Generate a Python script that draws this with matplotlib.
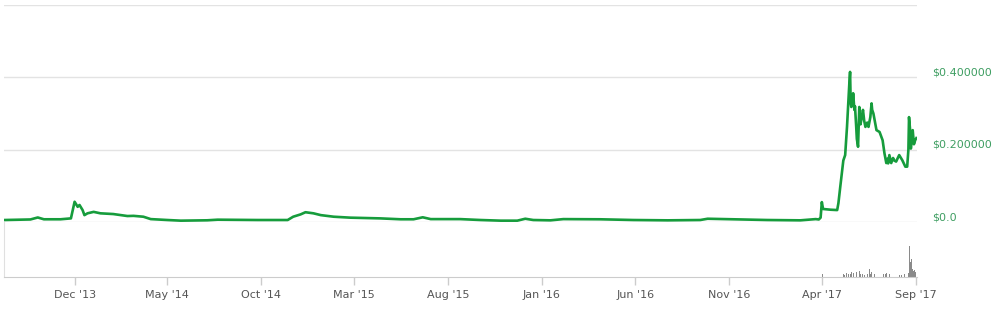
import matplotlib
matplotlib.use('Agg')
import matplotlib.pyplot as plt
import matplotlib.dates as mdates
import matplotlib.transforms as mtransforms
import matplotlib.ticker as mticker
import pandas as pd

# Price history (USD)
price_dates = [
	'2013-08-09', '2013-09-20', '2013-10-02', '2013-10-12', '2013-11-08', '2013-11-25',
	'2013-12-01', '2013-12-06', '2013-12-09', '2013-12-14', '2013-12-17', '2013-12-22',
	'2014-01-01', '2014-01-12', '2014-02-02', '2014-02-25', '2014-03-07', '2014-03-23',
	'2014-04-04', '2014-05-01', '2014-05-23', '2014-07-05', '2014-07-22', '2014-09-25',
	'2014-11-13', '2014-11-22', '2014-12-04', '2014-12-12', '2014-12-25', '2015-01-06',
	'2015-01-27', '2015-02-23', '2015-04-13', '2015-05-16', '2015-06-06', '2015-06-21',
	'2015-07-04', '2015-08-21', '2015-09-23', '2015-10-26', '2015-11-22', '2015-12-05',
	'2015-12-18', '2016-01-15', '2016-02-05', '2016-04-05', '2016-05-29', '2016-07-24',
	'2016-09-15', '2016-09-27', '2016-11-08', '2017-01-02', '2017-02-25', '2017-03-22',
	'2017-03-27', '2017-03-30', '2017-04-01', '2017-04-03', '2017-04-15', '2017-04-26',
	'2017-04-28', '2017-05-01', '2017-05-06', '2017-05-09', '2017-05-12', '2017-05-16',
	'2017-05-17', '2017-05-18', '2017-05-19', '2017-05-20', '2017-05-21', '2017-05-22',
	'2017-05-24', '2017-05-25', '2017-05-27', '2017-05-28', '2017-05-30', '2017-06-01',
	'2017-06-03', '2017-06-05', '2017-06-07', '2017-06-09', '2017-06-11', '2017-06-14',
	'2017-06-16', '2017-06-19', '2017-06-21', '2017-06-22', '2017-06-24', '2017-06-29',
	'2017-07-04', '2017-07-09', '2017-07-12', '2017-07-15', '2017-07-17', '2017-07-18',
	'2017-07-20', '2017-07-23', '2017-07-26', '2017-07-28', '2017-07-31', '2017-08-03',
	'2017-08-05', '2017-08-10', '2017-08-15', '2017-08-18', '2017-08-20', '2017-08-21',
	'2017-08-23', '2017-08-24', '2017-08-27', '2017-08-29', '2017-08-31', '2017-09-02',
]
price_usd = [
	0.0055, 0.0070, 0.0125, 0.0075, 0.0075, 0.0100,
	0.0560, 0.0420, 0.0470, 0.0330, 0.0190, 0.0240,
	0.0280, 0.0240, 0.0220, 0.0165, 0.0170, 0.0146,
	0.0080, 0.0055, 0.0037, 0.0047, 0.0064, 0.0055,
	0.0055, 0.0146, 0.0210, 0.0270, 0.0240, 0.0190,
	0.0146, 0.0120, 0.0100, 0.0075, 0.0075, 0.0130,
	0.0080, 0.0080, 0.0055, 0.0037, 0.0037, 0.0090,
	0.0055, 0.0046, 0.0080, 0.0075, 0.0055, 0.0046,
	0.0055, 0.0090, 0.0075, 0.0055, 0.0046, 0.0080,
	0.0070, 0.0120, 0.0550, 0.0360, 0.0340, 0.0330,
	0.0520, 0.0970, 0.1700, 0.1850, 0.2630, 0.3900,
	0.4150, 0.3300, 0.3180, 0.3500, 0.3300, 0.3560,
	0.3100, 0.3200, 0.2630, 0.2300, 0.2080, 0.3180,
	0.2700, 0.2900, 0.3100, 0.2800, 0.2630, 0.2750,
	0.2630, 0.2900, 0.3280, 0.3100, 0.3000, 0.2540,
	0.2490, 0.2260, 0.1900, 0.1630, 0.1750, 0.1620,
	0.1850, 0.1630, 0.1770, 0.1700, 0.1670, 0.1780,
	0.1850, 0.1710, 0.1530, 0.1530, 0.2000, 0.2900,
	0.2500, 0.2030, 0.2540, 0.2150, 0.2260, 0.2320,
]

# Trading volume (million USD), only visible from spring 2017
volume_dates = [
	'2017-04-02', '2017-05-06', '2017-05-08', '2017-05-11', '2017-05-14', '2017-05-17',
	'2017-05-19', '2017-05-22', '2017-05-25', '2017-05-27', '2017-05-30', '2017-06-01',
	'2017-06-03', '2017-06-06', '2017-06-09', '2017-06-12', '2017-06-14', '2017-06-17',
	'2017-06-19', '2017-06-21', '2017-06-26', '2017-07-08', '2017-07-10', '2017-07-13',
	'2017-07-15', '2017-07-20', '2017-08-06', '2017-08-09', '2017-08-14', '2017-08-20',
	'2017-08-22', '2017-08-23', '2017-08-25', '2017-08-26', '2017-08-28', '2017-08-30',
	'2017-09-01',
]
volume_musd = [
	60, 60, 50, 80, 60, 70,
	100, 80, 60, 100, 70, 130,
	60, 60, 50, 80, 60, 170,
	70, 100, 60, 50, 70, 60,
	80, 60, 40, 50, 60, 80,
	620, 300, 370, 160, 120, 140,
	100,
]

tick_dates = ['2013-12-01', '2014-05-01', '2014-10-01', '2015-03-01', '2015-08-01',
	'2016-01-01', '2016-06-01', '2016-11-01', '2017-04-01', '2017-09-01']
tick_labels = ["Dec '13", "May '14", "Oct '14", "Mar '15", "Aug '15",
	"Jan '16", "Jun '16", "Nov '16", "Apr '17", "Sep '17"]

price_ticks = [0.0, 0.2, 0.4, 0.6]
price_tick_labels = [r'\$0.0', r'\$0.200000', r'\$0.400000', '']

plt.rcParams['font.family'] = ['DejaVu Sans']

fig = plt.figure(figsize=(10, 3.09), dpi=100)
ax = fig.add_axes([0.004, 1 - 222/309, 0.913, 217/309])
axv = fig.add_axes([0.004, 1 - 277/309, 0.913, 55/309], sharex=ax)

green = '#169c3c'
grid_c = '#e3e3e3'

pd_dates = pd.to_datetime(price_dates)
ax.plot(pd_dates, price_usd, color=green, lw=1.9, solid_joinstyle='round', zorder=3)
ax.set_ylim(0, 0.6)
ax.yaxis.set_major_locator(mticker.FixedLocator(price_ticks))
ax.yaxis.set_major_formatter(mticker.FixedFormatter(price_tick_labels))
ax.yaxis.tick_right()
ax.tick_params(axis='y', length=0, pad=11, labelsize=8, labelcolor='#3f9e62')
ax.tick_params(axis='x', bottom=False, labelbottom=False)
ax.grid(axis='y', color=grid_c, lw=1)
for s in ax.spines.values():
	s.set_visible(False)
offset = mtransforms.ScaledTranslation(0, 0.06, fig.dpi_scale_trans)
for lab in ax.get_yticklabels():
	lab.set_transform(lab.get_transform() + offset)

axv.bar(pd.to_datetime(volume_dates), volume_musd, width=1.4, color='#8a8a8a', zorder=2)
axv.set_ylim(0, 1100)
axv.set_yticks([])
axv.set_xlim(pd.Timestamp('2013-08-08'), pd.Timestamp('2017-09-03'))
axv.xaxis.set_major_locator(mticker.FixedLocator(mdates.date2num(pd.to_datetime(tick_dates))))
axv.xaxis.set_major_formatter(mticker.FixedFormatter(tick_labels))
axv.tick_params(axis='x', length=6, width=1, color='#cccccc', pad=3,
	labelsize=8, labelcolor='#555555')
for k in ['top', 'right']:
	axv.spines[k].set_visible(False)
axv.spines['bottom'].set_color('#cccccc')
axv.spines['left'].set_color('#e0e0e0')
axv.patch.set_alpha(0)

fig.savefig('out.png', dpi=100)
